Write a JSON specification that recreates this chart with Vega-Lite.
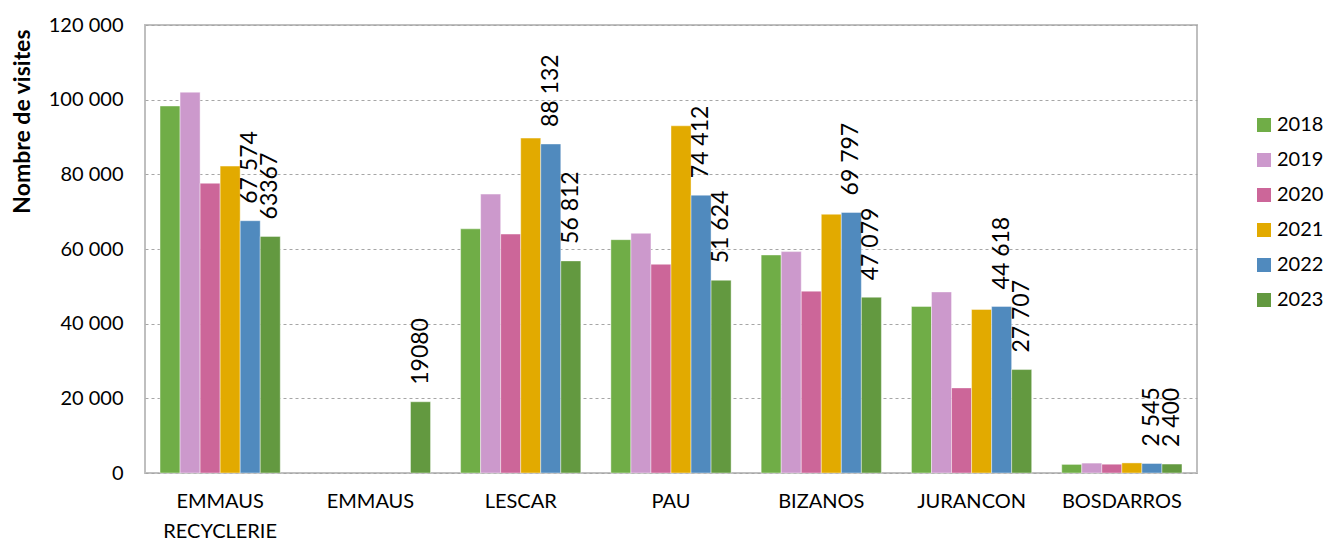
{
  "$schema": "https://vega.github.io/schema/vega-lite/v6.json",
  "autosize": "none",
  "width": 1052,
  "height": 448,
  "padding": {"left": 145, "top": 25, "right": 130, "bottom": 68},
  "background": "white",
  "config": {
    "view": {"stroke": "#bfbfbf", "strokeWidth": 2},
    "font": "Lato"
  },
  "data": {
    "values": [
      {"site": "EMMAUS RECYCLERIE", "year": "2018", "visits": 98300},
      {"site": "EMMAUS RECYCLERIE", "year": "2019", "visits": 102000},
      {"site": "EMMAUS RECYCLERIE", "year": "2020", "visits": 77600},
      {"site": "EMMAUS RECYCLERIE", "year": "2021", "visits": 82200},
      {"site": "EMMAUS RECYCLERIE", "year": "2022", "visits": 67574, "label": "67 574"},
      {"site": "EMMAUS RECYCLERIE", "year": "2023", "visits": 63367, "label": "63367"},
      {"site": "EMMAUS", "year": "2023", "visits": 19080, "label": "19080"},
      {"site": "LESCAR", "year": "2018", "visits": 65400},
      {"site": "LESCAR", "year": "2019", "visits": 74700},
      {"site": "LESCAR", "year": "2020", "visits": 64000},
      {"site": "LESCAR", "year": "2021", "visits": 89700},
      {"site": "LESCAR", "year": "2022", "visits": 88132, "label": "88 132"},
      {"site": "LESCAR", "year": "2023", "visits": 56812, "label": "56 812"},
      {"site": "PAU", "year": "2018", "visits": 62500},
      {"site": "PAU", "year": "2019", "visits": 64200},
      {"site": "PAU", "year": "2020", "visits": 55900},
      {"site": "PAU", "year": "2021", "visits": 93000},
      {"site": "PAU", "year": "2022", "visits": 74412, "label": "74 412"},
      {"site": "PAU", "year": "2023", "visits": 51624, "label": "51 624"},
      {"site": "BIZANOS", "year": "2018", "visits": 58400},
      {"site": "BIZANOS", "year": "2019", "visits": 59300},
      {"site": "BIZANOS", "year": "2020", "visits": 48700},
      {"site": "BIZANOS", "year": "2021", "visits": 69300},
      {"site": "BIZANOS", "year": "2022", "visits": 69797, "label": "69 797"},
      {"site": "BIZANOS", "year": "2023", "visits": 47079, "label": "47 079"},
      {"site": "JURANCON", "year": "2018", "visits": 44600},
      {"site": "JURANCON", "year": "2019", "visits": 48500},
      {"site": "JURANCON", "year": "2020", "visits": 22800},
      {"site": "JURANCON", "year": "2021", "visits": 43800},
      {"site": "JURANCON", "year": "2022", "visits": 44618, "label": "44 618"},
      {"site": "JURANCON", "year": "2023", "visits": 27707, "label": "27 707"},
      {"site": "BOSDARROS", "year": "2018", "visits": 2300},
      {"site": "BOSDARROS", "year": "2019", "visits": 2650},
      {"site": "BOSDARROS", "year": "2020", "visits": 2350},
      {"site": "BOSDARROS", "year": "2021", "visits": 2700},
      {"site": "BOSDARROS", "year": "2022", "visits": 2545, "label": "2 545"},
      {"site": "BOSDARROS", "year": "2023", "visits": 2400, "label": "2 400"}
    ]
  },
  "encoding": {
    "x": {
      "field": "site",
      "type": "nominal",
      "sort": ["EMMAUS RECYCLERIE", "EMMAUS", "LESCAR", "PAU", "BIZANOS", "JURANCON", "BOSDARROS"],
      "scale": {"paddingInner": 0.2, "paddingOuter": 0.1},
      "axis": {
        "title": null,
        "labelAngle": 0,
        "labelFont": "Lato",
        "labelFontSize": 20,
        "labelColor": "#000000",
        "labelPadding": 18,
        "labelLineHeight": 30,
        "labelBaseline": "top",
        "labelExpr": "datum.value == 'EMMAUS RECYCLERIE' ? ['EMMAUS', 'RECYCLERIE'] : datum.value",
        "ticks": false,
        "domain": false
      }
    },
    "xOffset": {
      "field": "year",
      "type": "nominal",
      "scale": {"domain": ["2018", "2019", "2020", "2021", "2022", "2023"], "paddingInner": 0, "paddingOuter": 0}
    },
    "y": {
      "field": "visits",
      "type": "quantitative",
      "scale": {"domain": [0, 120000]},
      "axis": {
        "title": "Nombre de visites",
        "titleFont": "Lato",
        "titleFontSize": 23,
        "titleFontWeight": "bold",
        "titleColor": "#000000",
        "titleAnchor": "end",
        "titleY": 4,
        "titlePadding": 14,
        "values": [0, 20000, 40000, 60000, 80000, 100000, 120000],
        "labelExpr": "replace(format(datum.value, ',d'), ',', ' ')",
        "labelFont": "Lato",
        "labelFontSize": 20,
        "labelColor": "#000000",
        "labelPadding": 22,
        "ticks": false,
        "domain": false,
        "grid": true,
        "gridColor": "#a6a6a6",
        "gridDash": [3, 3],
        "gridWidth": 1
      }
    }
  },
  "layer": [
    {
      "mark": {"type": "bar", "stroke": "#ffffff", "strokeOpacity": 0.6, "strokeWidth": 0.7},
      "encoding": {
        "color": {
          "field": "year",
          "type": "nominal",
          "scale": {
            "domain": ["2018", "2019", "2020", "2021", "2022", "2023"],
            "range": ["#70AD47", "#CC99CC", "#CC6699", "#E2AA00", "#508ABE", "#639940"]
          },
          "legend": {
            "title": null,
            "orient": "none",
            "legendX": 1109,
            "legendY": 90,
            "symbolType": "square",
            "symbolSize": 196,
            "symbolStrokeWidth": 0,
            "labelFont": "Lato",
            "labelFontSize": 20,
            "labelColor": "#000000",
            "labelOffset": 3,
            "labelLimit": 200,
            "rowPadding": 15
          }
        }
      }
    },
    {
      "transform": [{"filter": "isValid(datum.label)"}],
      "mark": {"type": "text", "angle": -90, "align": "left", "baseline": "middle", "dx": 17, "font": "Lato", "fontSize": 23, "color": "#000000"},
      "encoding": {
        "text": {"field": "label", "type": "nominal"}
      }
    }
  ]
}
